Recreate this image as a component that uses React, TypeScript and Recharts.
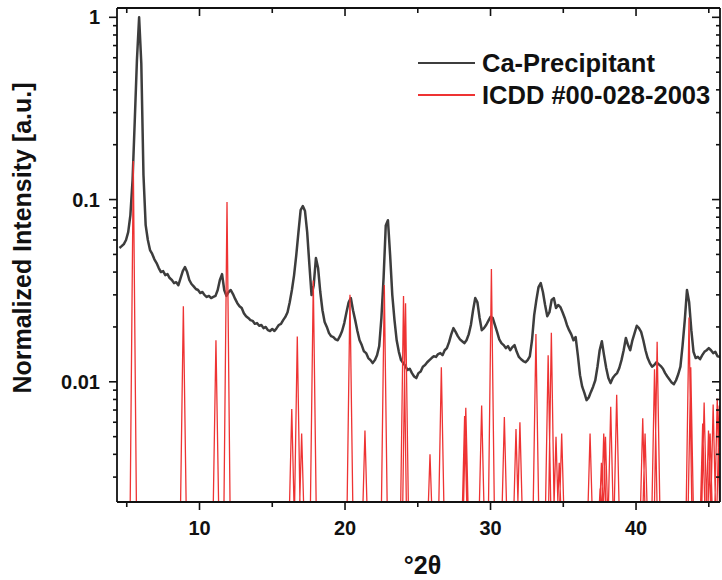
import React from "react";
import { LineChart, Line, XAxis, YAxis, Legend, Label } from "recharts";

// measured scan: 2θ from 4.5° in 0.15° steps, normalised intensity
const SCAN_START = 4.5;
const SCAN_STEP = 0.15;
const scanIntensity = [
  0.0542, 0.0555, 0.057, 0.06, 0.0663, 0.0822, 0.128, 0.27, 0.583, 1.0,
  0.56, 0.136, 0.0724, 0.06, 0.0528, 0.0503, 0.047, 0.0448, 0.0421, 0.04,
  0.0405, 0.0385, 0.039, 0.0371, 0.0362, 0.0348, 0.0352, 0.0339, 0.0371, 0.0405,
  0.0426, 0.04, 0.0362, 0.0344, 0.0334, 0.0323, 0.0319, 0.0307, 0.0311, 0.0299,
  0.0292, 0.0296, 0.0288, 0.0292, 0.0296, 0.0319, 0.0362, 0.039, 0.0319, 0.0296,
  0.0311, 0.0319, 0.0303, 0.0285, 0.027, 0.026, 0.0254, 0.0238, 0.0229, 0.0224,
  0.0218, 0.0216, 0.0208, 0.021, 0.0203, 0.0205, 0.0197, 0.02, 0.0192, 0.019,
  0.0195, 0.019, 0.0197, 0.0205, 0.0208, 0.0218, 0.0227, 0.0241, 0.0273, 0.0319,
  0.0385, 0.0496, 0.0663, 0.0876, 0.0922, 0.0865, 0.0663, 0.044, 0.0299, 0.0339,
  0.0478, 0.0421, 0.0311, 0.0247, 0.0213, 0.02, 0.0185, 0.0178, 0.0176, 0.0171,
  0.0169, 0.0178, 0.019, 0.021, 0.0241, 0.0273, 0.0288, 0.0247, 0.0218, 0.019,
  0.0169, 0.0159, 0.0147, 0.01437, 0.0135, 0.01315, 0.01267, 0.01315, 0.014, 0.0157,
  0.0224, 0.0371, 0.072, 0.077, 0.0496, 0.0299, 0.0218, 0.0169, 0.0146, 0.01315,
  0.01267, 0.0122, 0.0116, 0.0118, 0.01116, 0.0107, 0.01048, 0.01116, 0.0114, 0.0121,
  0.01235, 0.0128, 0.01315, 0.0135, 0.0138, 0.0137, 0.0142, 0.01437, 0.014, 0.0149,
  0.0153, 0.0165, 0.0182, 0.0197, 0.0188, 0.0178, 0.0171, 0.0167, 0.0163, 0.0169,
  0.0182, 0.0205, 0.0247, 0.0288, 0.0273, 0.0224, 0.0192, 0.0197, 0.0205, 0.0216,
  0.0227, 0.0224, 0.0205, 0.0188, 0.0171, 0.0163, 0.0159, 0.0153, 0.0157, 0.0149,
  0.0155, 0.0159, 0.0146, 0.0137, 0.0133, 0.013, 0.0128, 0.01315, 0.0138, 0.0169,
  0.0232, 0.0281, 0.0331, 0.0348, 0.0311, 0.0264, 0.0229, 0.0241, 0.0281, 0.0288,
  0.0254, 0.0264, 0.0257, 0.0241, 0.0224, 0.0205, 0.0192, 0.0182, 0.0169, 0.0176,
  0.014, 0.01088, 0.0094, 0.0087, 0.00793, 0.0082, 0.0088, 0.0094, 0.0102, 0.0121,
  0.0149, 0.0167, 0.014, 0.0119, 0.01048, 0.00984, 0.01048, 0.01088, 0.01116, 0.0119,
  0.01315, 0.0149, 0.0174, 0.0159, 0.0149, 0.0169, 0.0185, 0.0203, 0.0197, 0.0188,
  0.0169, 0.0149, 0.0135, 0.01267, 0.0121, 0.01235, 0.0128, 0.0125, 0.0122, 0.0118,
  0.01116, 0.0107, 0.0103, 0.0099, 0.0097, 0.0102, 0.011, 0.0121, 0.0159, 0.0218,
  0.0319, 0.0273, 0.0192, 0.0146, 0.0135, 0.0137, 0.0133, 0.014, 0.0146, 0.0149,
  0.0153, 0.0149, 0.01437, 0.0146, 0.0138, 0.0137, 0.0138,
];

// ICDD #00-028-2003 reference lines
const stickAngle = [
  5.45, 8.89, 11.13, 11.89, 16.34, 16.72, 17.02, 17.82, 20.34, 21.37,
  22.7, 24.02, 24.16, 25.84, 26.62, 28.22, 28.3, 29.39, 30.06, 30.95,
  31.75, 32.02, 33.12, 33.96, 34.18, 34.5, 34.72, 34.89, 36.84, 37.53,
  37.62, 37.78, 37.9, 38.26, 38.67, 40.46, 40.62, 41.27, 41.45, 43.64,
  43.76, 44.58, 44.68, 44.98, 45.09, 45.3, 45.58, 45.72,
];
const stickIntensity = [
  0.163, 0.026, 0.0169, 0.097, 0.0071, 0.0177, 0.0052, 0.036, 0.03, 0.0054,
  0.034, 0.0296, 0.027, 0.004, 0.012, 0.0065, 0.0072, 0.0074, 0.0416, 0.0064,
  0.0055, 0.006, 0.0183, 0.014, 0.0186, 0.005, 0.0036, 0.0052, 0.0052, 0.0026,
  0.0036, 0.0052, 0.005, 0.0073, 0.0085, 0.0063, 0.0052, 0.0117, 0.0166, 0.0225,
  0.012, 0.0059, 0.0077, 0.0054, 0.0052, 0.0075, 0.0081, 0.0074,
];

const xTicks = [5, 10, 15, 20, 25, 30, 35, 40, 45];
const xLabelled = [10, 20, 30, 40];
const yTicks = [
  0.003, 0.004, 0.005, 0.006, 0.007, 0.008, 0.009, 0.01,
  0.02, 0.03, 0.04, 0.05, 0.06, 0.07, 0.08, 0.09, 0.1,
  0.2, 0.3, 0.4, 0.5, 0.6, 0.7, 0.8, 0.9, 1,
];
const yLabelled = [0.01, 0.1, 1];

const X_DOMAIN: [number, number] = [4.33, 45.77];
const Y_DOMAIN: [number, number] = [0.00219, 1.125];
const STICK_FLOOR = 0.001;
const STICK_HALF = 0.25;

const FONT = '"Liberation Sans", Arial, Helvetica, sans-serif';
const INK = "#111";

const scanData = scanIntensity.map((y, i) => ({
  x: +(SCAN_START + i * SCAN_STEP).toFixed(2),
  y,
}));

const stickData = stickAngle.flatMap((x, i) => [
  { x: x - STICK_HALF, y: STICK_FLOOR },
  { x, y: stickIntensity[i] },
  { x: x + STICK_HALF, y: STICK_FLOOR },
]);

function BottomTick({ x, y, payload }: any) {
  const major = xLabelled.includes(payload.value);
  return (
    <g>
      <line x1={x} x2={x} y1={y} y2={y + (major ? 8 : 5)} stroke={INK} strokeWidth={1.6} />
      {major && (
        <text x={x} y={y + 33} textAnchor="middle" fontFamily={FONT} fontWeight={700} fontSize={20} fill={INK}>
          {payload.value}
        </text>
      )}
    </g>
  );
}

function TopTick({ x, y, payload }: any) {
  const major = xLabelled.includes(payload.value);
  return <line x1={x} x2={x} y1={y} y2={y + (major ? 8 : 5)} stroke={INK} strokeWidth={1.6} />;
}

function LeftTick({ x, y, payload }: any) {
  const major = yLabelled.includes(payload.value);
  return (
    <g>
      <line x1={x - (major ? 8 : 4)} x2={x} y1={y} y2={y} stroke={INK} strokeWidth={1.6} />
      {major && (
        <text x={x - 17} y={y + 7} textAnchor="end" fontFamily={FONT} fontWeight={700} fontSize={20} fill={INK}>
          {payload.value}
        </text>
      )}
    </g>
  );
}

function RightTick({ x, y, payload }: any) {
  const major = yLabelled.includes(payload.value);
  return <line x1={x - (major ? 8 : 4)} x2={x} y1={y} y2={y} stroke={INK} strokeWidth={1.6} />;
}

function LegendBox({ payload }: any) {
  return (
    <div style={{ fontFamily: FONT, fontWeight: 700, fontSize: 25.5, color: INK }}>
      {(payload || []).map((entry: any) => (
        <div key={entry.value} style={{ display: "flex", alignItems: "center", height: 32 }}>
          <span
            style={{
              display: "inline-block",
              width: 57,
              borderTop: `2px solid ${entry.color}`,
              marginRight: 7,
            }}
          />
          <span>{entry.value}</span>
        </div>
      ))}
    </div>
  );
}

export default function App() {
  const axisLine = { stroke: INK, strokeWidth: 1.8 };
  return (
    <div style={{ position: "absolute", left: 0, top: 0, background: "#fff" }}>
      <LineChart width={722} height={580} margin={{ top: 8, right: 2, bottom: 38, left: 0 }}>
        <XAxis
          dataKey="x"
          type="number"
          domain={X_DOMAIN}
          allowDataOverflow
          ticks={xTicks}
          interval={0}
          tickSize={0}
          tickMargin={0}
          tickLine={false}
          tick={<BottomTick />}
          axisLine={axisLine}
          height={40}
        >
          <Label
            content={({ viewBox }: any) => (
              <text
                x={viewBox.x + viewBox.width / 2 + 4}
                y={574}
                textAnchor="middle"
                fontFamily={FONT}
                fontWeight={700}
                fontSize={25}
                fill={INK}
              >
                °2θ
              </text>
            )}
          />
        </XAxis>
        <XAxis
          xAxisId="top"
          dataKey="x"
          type="number"
          orientation="top"
          mirror
          domain={X_DOMAIN}
          allowDataOverflow
          ticks={xTicks}
          interval={0}
          tickSize={0}
          tickMargin={0}
          tickLine={false}
          tick={<TopTick />}
          axisLine={axisLine}
        />
        <YAxis
          type="number"
          scale="log"
          domain={Y_DOMAIN}
          allowDataOverflow
          ticks={yTicks}
          interval={0}
          tickSize={0}
          tickMargin={0}
          tickLine={false}
          tick={<LeftTick />}
          axisLine={axisLine}
          width={117}
        >
          <Label
            content={({ viewBox }: any) => {
              const cx = 31;
              const cy = viewBox.y + viewBox.height / 2 - 17;
              return (
                <text
                  x={cx}
                  y={cy}
                  transform={`rotate(-90 ${cx} ${cy})`}
                  textAnchor="middle"
                  fontFamily={FONT}
                  fontWeight={700}
                  fontSize={25}
                  fill={INK}
                >
                  Normalized Intensity [a.u.]
                </text>
              );
            }}
          />
        </YAxis>
        <YAxis
          yAxisId="right"
          type="number"
          scale="log"
          orientation="right"
          mirror
          domain={Y_DOMAIN}
          allowDataOverflow
          ticks={yTicks}
          interval={0}
          tickSize={0}
          tickMargin={0}
          tickLine={false}
          tick={<RightTick />}
          axisLine={axisLine}
        />
        <Legend
          layout="horizontal"
          verticalAlign="middle"
          align="center"
          content={<LegendBox />}
          wrapperStyle={{ top: 47, left: 418, width: "auto" }}
        />
        <Line
          data={scanData}
          dataKey="y"
          name="Ca-Precipitant"
          type="linear"
          stroke="#3d3d3d"
          strokeWidth={2.5}
          strokeLinejoin="round"
          dot={false}
          activeDot={false}
          isAnimationActive={false}
        />
        <Line
          data={stickData}
          dataKey="y"
          name="ICDD #00-028-2003"
          type="linear"
          stroke="#ee3333"
          strokeWidth={1.3}
          dot={false}
          activeDot={false}
          isAnimationActive={false}
        />
      </LineChart>
    </div>
  );
}
